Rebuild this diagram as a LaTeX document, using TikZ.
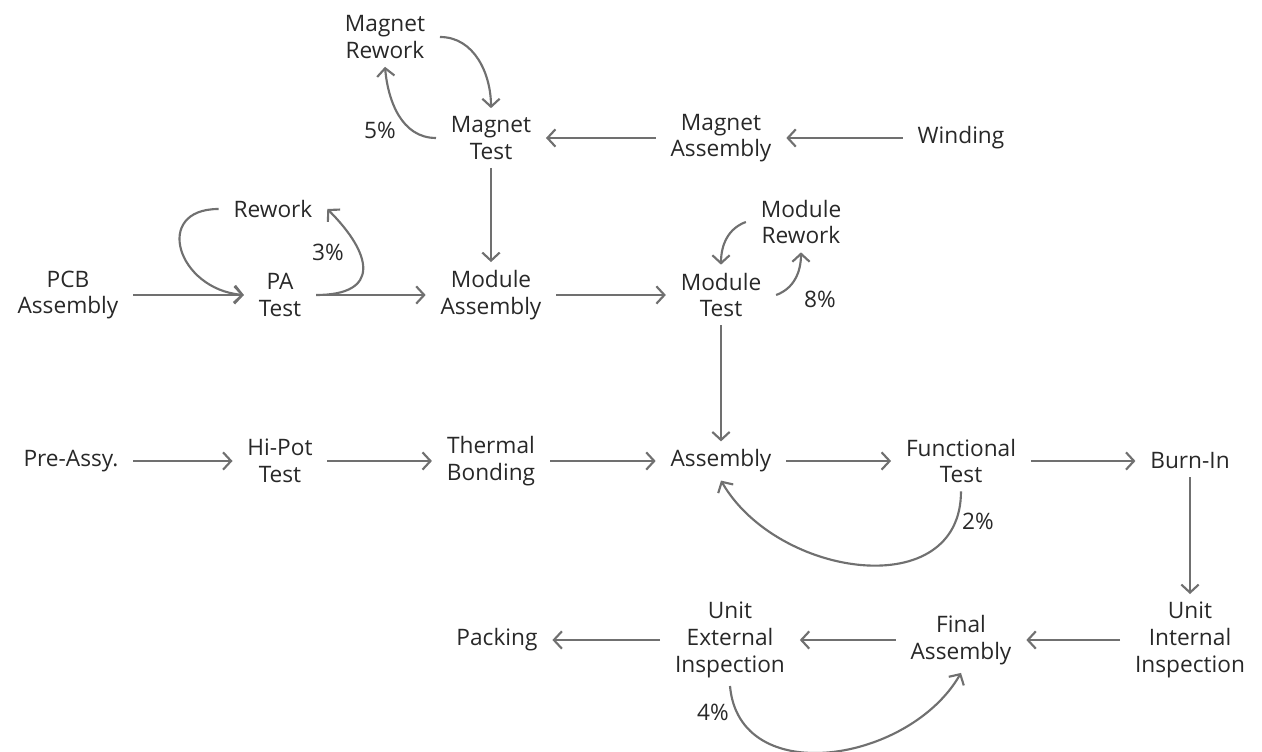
\documentclass[tikz,border=0pt]{standalone}
\usepackage{fontspec}
\setmainfont{Open Sans}
\usepackage{tikz}
\usetikzlibrary{arrows.meta, positioning}
\definecolor{flowgray}{RGB}{112,112,112}
\definecolor{inkgray}{RGB}{40,40,40}
\tikzset{
    proc/.style={align=center, inner xsep=11pt, inner ysep=6pt, font=\fontsize{17}{20}\selectfont, text=inkgray},
    pct/.style={inner sep=0pt, font=\fontsize{17}{20}\selectfont, text=inkgray},
    arrow/.style={-{Straight Barb[length=6pt, width=13pt]}, line width=1.6pt, draw=flowgray},
}

\begin{document}
\begin{tikzpicture}[on grid]
    \useasboundingbox (-540.75pt,-218.25pt) rectangle (405.75pt,345.75pt);

    % Main line
    \node[proc] (asm) {Assembly};
    \node[proc, left=172.5pt of asm] (thermal) {Thermal\\Bonding};
    \node[proc, left=158.25pt of thermal] (hipot) {Hi-Pot\\Test};
    \node[proc, left=156.75pt of hipot] (preassy) {Pre-Assy.};
    \node[proc, right=180pt of asm] (functest) {Functional\\Test};
    \node[proc, right=171.75pt of functest] (burnin) {Burn-In};

    % Module line
    \node[proc, above=124.5pt of asm] (modtest) {Module\\Test};
    \node[proc, left=172.5pt of modtest] (modasm) {Module\\Assembly};
    \node[proc, left=158.25pt of modasm] (patest) {PA\\Test};
    \node[proc, left=159pt of patest] (pcb) {PCB\\Assembly};
    \node[proc, above left=64.5pt and 5.25pt of patest] (rework) {Rework};
    \node[proc, above right=54.75pt and 60pt of modtest] (modrework) {Module\\Rework};

    % Magnet line
    \node[proc, above=117.75pt of modtest] (magasm) {Magnet\\Assembly};
    \node[proc, left=172.5pt of magasm] (magtest) {Magnet\\Test};
    \node[proc, right=180pt of magasm] (winding) {Winding};
    \node[proc, above left=75.75pt and 79.5pt of magtest] (magrework) {Magnet\\Rework};

    % Final line
    \node[proc, below=134.25pt of burnin] (unitint) {Unit\\Internal\\Inspection};
    \node[proc, left=171.75pt of unitint] (finalasm) {Final\\Assembly};
    \node[proc, left=173.25pt of finalasm] (unitext) {Unit\\External\\Inspection};
    \node[proc, left=174.75pt of unitext] (packing) {Packing};

    % Rates
    \node[pct, above left=6pt and 83.25pt of magtest] (p5) {5\%};
    \node[pct, above right=32.25pt and 36pt of patest] (p3) {3\%};
    \node[pct, below right=3pt and 74.25pt of modtest] (p8) {8\%};
    \node[pct, below right=45pt and 12.75pt of functest] (p2) {2\%};
    \node[pct, below left=54pt and 12.75pt of unitext] (p4) {4\%};

    % Arrows
    \draw[arrow] (winding) -- (magasm);
    \draw[arrow] (magasm) -- (magtest);
    \draw[arrow] (magtest) -- (modasm);
    \draw[arrow] (magtest.west) to[out=180, in=-85] (magrework.south);
    \draw[arrow] (magrework.east) to[out=0, in=90] (magtest.north);
    \draw[arrow] (pcb) -- (patest);
    \draw[arrow] (patest) -- (modasm);
    \draw[arrow] (patest.east) to[out=0, in=-45, looseness=1.9] (rework.east);
    \draw[arrow] (rework.west) to[out=180, in=175, looseness=1.9] (patest.west);
    \draw[arrow] (modasm) -- (modtest);
    \draw[arrow] (modtest.east) to[out=20, in=-90] (modrework.south);
    \draw[arrow] (modrework.west) to[out=200, in=90] (modtest.north);
    \draw[arrow] (modtest) -- (asm);
    \draw[arrow] (preassy) -- (hipot);
    \draw[arrow] (hipot) -- (thermal);
    \draw[arrow] (thermal) -- (asm);
    \draw[arrow] (asm) -- (functest);
    \draw[arrow] (functest) -- (burnin);
    \draw[arrow] (functest.south) to[out=-90, in=-60, looseness=1.2] (asm.south);
    \draw[arrow] (burnin) -- (unitint);
    \draw[arrow] (unitint) -- (finalasm);
    \draw[arrow] (finalasm) -- (unitext);
    \draw[arrow] (unitext) -- (packing);
    \draw[arrow] (unitext.south) to[out=-85, in=-120, looseness=1.15] (finalasm.south);
\end{tikzpicture}
\end{document}
